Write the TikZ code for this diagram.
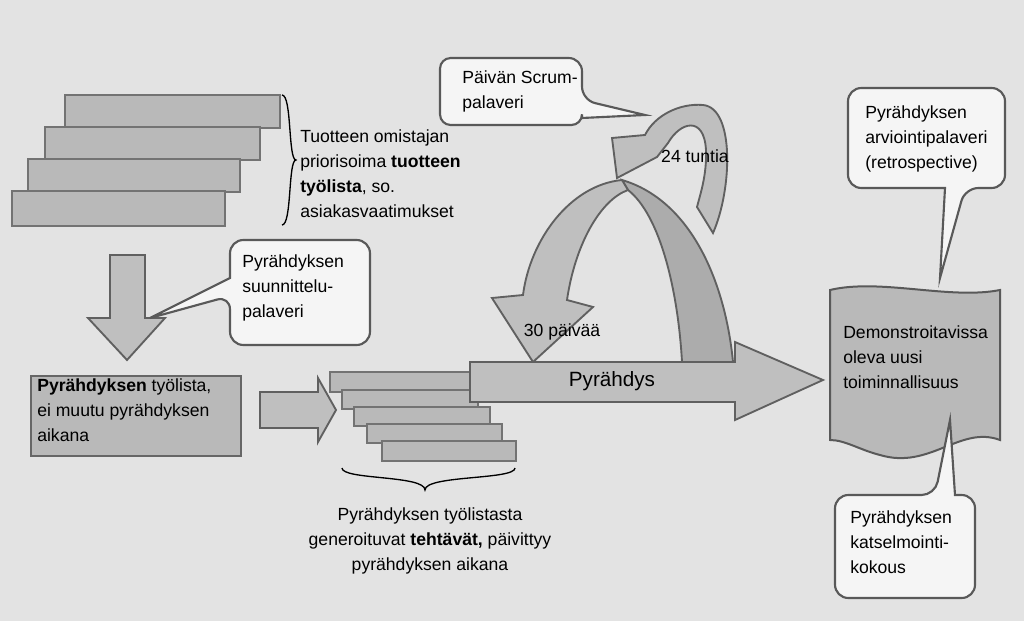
\documentclass[tikz,border=0pt]{standalone}
\usepackage{fontspec}
\setmainfont{Liberation Sans}
\begin{document}
\begin{tikzpicture}[x=0.75pt,y=-0.75pt,
  bar/.style={fill=gray!55,draw=gray!90!black,line width=1.2pt},
  shp/.style={fill=gray!50,draw=gray!75!black,line width=1.4pt},
  shpd/.style={fill=gray!65,draw=gray!75!black,line width=1.4pt},
  call/.style={fill=gray!8,draw=gray!70!black,line width=1.6pt,rounded corners=10pt},
  txt/.style={align=left,anchor=north west,font=\fontsize{13.2}{18.8}\selectfont,inner sep=0pt}]
\fill[gray!22] (0,0) rectangle (1024,621);
\useasboundingbox (0,0) rectangle (1024,621);
% top-left stack
\draw[bar] (65,95) rectangle (280,128);
\draw[bar] (45,127) rectangle (260,160);
\draw[bar] (28,159) rectangle (240,192);
\draw[bar] (12,191) rectangle (225,226);
\draw[line width=1pt] (282,95) .. controls (292,95) and (288,160) .. (296,160) .. controls (288,160) and (292,225) .. (282,225);
\node[txt] (po) at (300,129) {Tuotteen omistajan\\priorisoima \textbf{tuotteen}\\\textbf{työlista}, so.\\asiakasvaatimukset};
% down arrow
\draw[shp] (110,255) -- (145,255) -- (145,318) -- (165,318) -- (127,360) -- (88,318) -- (110,318) -- cycle;
\node[draw=gray!80!black,fill=gray!55,line width=1.4pt,minimum width=210pt*0.75,minimum height=80pt*0.75,anchor=north west,inner sep=0pt] (sb) at (30,375) {};
\node[txt] (sbt) at (37,378) {\textbf{Pyrähdyksen} työlista,\\ei muutu pyrähdyksen\\aikana};
% planning callout
\draw[call] (230,240) -- (370,240) -- (370,345) -- (230,345) -- (230,296) [sharp corners] -- (150,318) -- (230,278) [rounded corners=10pt] -- cycle;
\node[txt] (pl) at (242,254) {Pyrähdyksen\\suunnittelu-\\palaveri};
% right arrow
\draw[shp] (260,392) -- (318,392) -- (318,378) -- (336,410) -- (318,442) -- (318,428) -- (260,428) -- cycle;
% small stack
\draw[bar] (330,372) rectangle (470,392);
\draw[bar] (342,390) rectangle (478,409);
\draw[bar] (354,407) rectangle (490,426);
\draw[bar] (367,424) rectangle (502,443);
\draw[bar] (382,441) rectangle (516,461);
\draw[line width=1pt] (342,468) .. controls (342,480) and (425,475) .. (425,490) .. controls (425,475) and (515,480) .. (515,468);
\node[txt,align=center,anchor=north] (tt) at (430,507) {Pyrähdyksen työlistasta\\generoituvat \textbf{tehtävät,} päivittyy\\pyrähdyksen aikana};
% arch (back leg)
\draw[shpd] (622,180) .. controls (690,200) and (725,280) .. (733,362) -- (682,362) .. controls (678,290) and (660,215) .. (628,190) -- cycle;
% small loop 24 tuntia
\draw[shp] (713,233) .. controls (732,190) and (735,108) .. (703,105) .. controls (680,103) and (655,115) .. (645,135)
  -- (612,138) -- (617,178) -- (657,157) -- (668,143) .. controls (680,122) and (704,115) .. (706,150) .. controls (707,175) and (700,195) .. (697,207) -- cycle;
% arch front
\draw[shp] (622,180) .. controls (570,185) and (530,240) .. (523,295) -- (492,298) -- (533,362) -- (593,307) -- (567,300)
  .. controls (575,245) and (600,200) .. (628,190) -- cycle;
% Pyrähdys arrow
\draw[shp] (470,362) -- (735,362) -- (735,342) -- (823,380) -- (735,420) -- (735,402) -- (470,402) -- cycle;
\node[font=\fontsize{15.5}{18}\selectfont] (py) at (612,381) {Pyrähdys};
\node[font=\fontsize{13.2}{16}\selectfont] (d30) at (562,332) {30 päivää};
\node[font=\fontsize{13.2}{16}\selectfont] (t24) at (695,156) {24 tuntia};
% daily scrum callout
\draw[call] (440,58) -- (582,58) -- (582,100) [sharp corners] -- (645,115) -- (582,118) [rounded corners=8pt] -- (582,125) -- (440,125) -- cycle;
\node[txt] (ds) at (462,70) {Päivän Scrum-\\palaveri};
% retrospective callout
\draw[call] (848,88) -- (1005,88) -- (1005,188) -- (965,188) [sharp corners] -- (940,278) -- (945,188) [rounded corners=10pt] -- (848,188) -- cycle;
\node[txt] (rt) at (865,105) {Pyrähdyksen\\arviointipalaveri\\(retrospective)};
% document
\draw[fill=gray!55,draw=gray!70!black,line width=1.5pt] (830,290) .. controls (880,278) and (950,300) .. (1000,290) -- (1000,440)
  .. controls (960,425) and (930,470) .. (880,455) .. controls (860,450) and (845,440) .. (830,440) -- cycle;
\node[txt] (dm) at (843,325) {Demonstroitavissa\\oleva uusi\\toiminnallisuus};
% review callout
\draw[call] (835,495) -- (935,495) [sharp corners] -- (950,420) -- (955,495) [rounded corners=10pt] -- (975,495) -- (975,598) -- (835,598) -- cycle;
\node[txt] (rv) at (850,510) {Pyrähdyksen\\katselmointi-\\kokous};
\end{tikzpicture}
\end{document}
